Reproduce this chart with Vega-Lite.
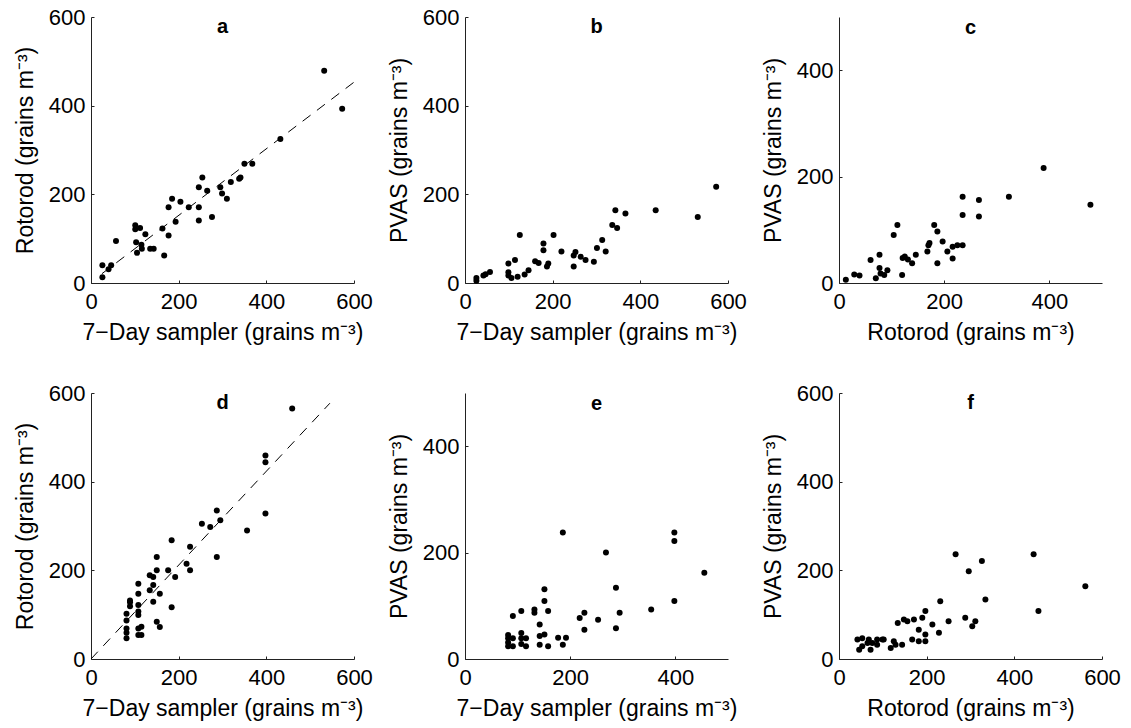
{
  "$schema": "https://vega.github.io/schema/vega-lite/v6.json",
  "background": "white",
  "padding": {"left": 14, "top": 6, "right": 5, "bottom": 5},
  "config": {
    "view": {"stroke": null},
    "font": "Liberation Sans",
    "axis": {
      "domainColor": "#222", "domainWidth": 1, "tickColor": "#222", "tickWidth": 1, "tickSize": -3,
      "labelFontSize": 22, "titleFontSize": 23, "labelColor": "black", "titleColor": "black",
      "titleFontWeight": "normal", "grid": false, "labelFlush": false, "labelOverlap": false,
      "labelFont": "Liberation Sans", "titleFont": "Liberation Sans"
    },
    "axisX": {"labelPadding": 11, "titlePadding": 9},
    "axisY": {"labelPadding": 9, "titlePadding": 11},
    "title": {"fontSize": 20, "fontWeight": "bold", "color": "black", "anchor": "middle", "frame": "group", "font": "Liberation Sans", "baseline": "alphabetic"}
  },
  "datasets": {
    "a": [{"x":26,"y":40},{"x":26,"y":13},{"x":40,"y":31},{"x":46,"y":40},{"x":57,"y":95},{"x":101,"y":130},{"x":101,"y":121},{"x":103,"y":92},{"x":105,"y":68},{"x":112,"y":124},{"x":115,"y":86},{"x":116,"y":77},{"x":124,"y":110},{"x":135,"y":77},{"x":143,"y":77},{"x":163,"y":123},{"x":167,"y":62},{"x":177,"y":107},{"x":177,"y":171},{"x":185,"y":190},{"x":193,"y":138},{"x":204,"y":183},{"x":223,"y":171},{"x":246,"y":216},{"x":246,"y":171},{"x":246,"y":141},{"x":254,"y":238},{"x":265,"y":208},{"x":276,"y":149},{"x":295,"y":216},{"x":299,"y":202},{"x":310,"y":190},{"x":319,"y":228},{"x":338,"y":235},{"x":341,"y":238},{"x":350,"y":269},{"x":368,"y":269},{"x":432,"y":325},{"x":532,"y":479},{"x":573,"y":393}],
    "aline": [{"x":25,"y":21},{"x":600,"y":453}],
    "b": [{"x":26,"y":11},{"x":26,"y":5},{"x":42,"y":17},{"x":47,"y":20},{"x":57,"y":25},{"x":99,"y":24},{"x":99,"y":44},{"x":99,"y":17},{"x":106,"y":11},{"x":114,"y":52},{"x":120,"y":14},{"x":125,"y":108},{"x":136,"y":19},{"x":145,"y":29},{"x":160,"y":49},{"x":168,"y":45},{"x":179,"y":89},{"x":179,"y":74},{"x":187,"y":37},{"x":190,"y":44},{"x":202,"y":108},{"x":220,"y":71},{"x":248,"y":37},{"x":248,"y":62},{"x":252,"y":70},{"x":264,"y":59},{"x":275,"y":52},{"x":294,"y":48},{"x":301,"y":79},{"x":313,"y":97},{"x":321,"y":71},{"x":336,"y":131},{"x":343,"y":164},{"x":347,"y":124},{"x":366,"y":157},{"x":435,"y":164},{"x":531,"y":149},{"x":573,"y":217}],
    "c": [{"x":13,"y":6},{"x":29,"y":16},{"x":39,"y":14},{"x":60,"y":43},{"x":70,"y":9},{"x":77,"y":53},{"x":77,"y":28},{"x":79,"y":18},{"x":86,"y":15},{"x":92,"y":24},{"x":104,"y":90},{"x":111,"y":109},{"x":120,"y":15},{"x":121,"y":47},{"x":125,"y":50},{"x":131,"y":44},{"x":139,"y":37},{"x":146,"y":53},{"x":168,"y":59},{"x":170,"y":71},{"x":172,"y":75},{"x":181,"y":109},{"x":187,"y":97},{"x":187,"y":37},{"x":197,"y":78},{"x":206,"y":59},{"x":216,"y":46},{"x":216,"y":68},{"x":225,"y":71},{"x":235,"y":71},{"x":235,"y":128},{"x":235,"y":162},{"x":266,"y":156},{"x":266,"y":125},{"x":323,"y":162},{"x":389,"y":216},{"x":478,"y":147}],
    "d": [{"x":81,"y":47},{"x":81,"y":59},{"x":81,"y":69},{"x":81,"y":87},{"x":81,"y":102},{"x":89,"y":119},{"x":89,"y":128},{"x":89,"y":132},{"x":108,"y":54},{"x":108,"y":69},{"x":108,"y":99},{"x":108,"y":107},{"x":108,"y":122},{"x":108,"y":147},{"x":108,"y":170},{"x":115,"y":54},{"x":115,"y":73},{"x":134,"y":155},{"x":134,"y":189},{"x":142,"y":185},{"x":142,"y":167},{"x":142,"y":129},{"x":150,"y":84},{"x":150,"y":230},{"x":150,"y":200},{"x":157,"y":72},{"x":157,"y":147},{"x":176,"y":200},{"x":184,"y":268},{"x":184,"y":117},{"x":192,"y":185},{"x":218,"y":215},{"x":226,"y":200},{"x":226,"y":253},{"x":253,"y":305},{"x":272,"y":298},{"x":287,"y":335},{"x":287,"y":230},{"x":295,"y":313},{"x":356,"y":290},{"x":398,"y":459},{"x":398,"y":444},{"x":398,"y":328},{"x":459,"y":565}],
    "dline": [{"x":0,"y":0},{"x":545,"y":577}],
    "e": [{"x":82,"y":45},{"x":82,"y":39},{"x":82,"y":31},{"x":82,"y":24},{"x":91,"y":81},{"x":91,"y":39},{"x":91,"y":24},{"x":107,"y":90},{"x":107,"y":49},{"x":107,"y":39},{"x":107,"y":28},{"x":116,"y":39},{"x":116,"y":24},{"x":132,"y":93},{"x":132,"y":87},{"x":142,"y":65},{"x":142,"y":43},{"x":142,"y":27},{"x":151,"y":131},{"x":151,"y":109},{"x":151,"y":46},{"x":158,"y":90},{"x":158,"y":24},{"x":177,"y":40},{"x":186,"y":238},{"x":186,"y":27},{"x":192,"y":40},{"x":218,"y":77},{"x":227,"y":87},{"x":227,"y":55},{"x":253,"y":74},{"x":268,"y":200},{"x":287,"y":134},{"x":287,"y":58},{"x":294,"y":87},{"x":354,"y":93},{"x":398,"y":238},{"x":398,"y":222},{"x":398,"y":109},{"x":455,"y":162}],
    "f": [{"x":42,"y":44},{"x":46,"y":21},{"x":53,"y":47},{"x":53,"y":29},{"x":65,"y":36},{"x":68,"y":44},{"x":72,"y":21},{"x":76,"y":36},{"x":87,"y":32},{"x":87,"y":44},{"x":99,"y":44},{"x":102,"y":44},{"x":118,"y":25},{"x":125,"y":40},{"x":129,"y":32},{"x":134,"y":81},{"x":144,"y":32},{"x":148,"y":89},{"x":156,"y":85},{"x":167,"y":44},{"x":171,"y":89},{"x":182,"y":66},{"x":182,"y":40},{"x":190,"y":93},{"x":197,"y":108},{"x":197,"y":55},{"x":197,"y":40},{"x":213,"y":78},{"x":228,"y":59},{"x":231,"y":130},{"x":250,"y":85},{"x":266,"y":236},{"x":288,"y":93},{"x":296,"y":198},{"x":304,"y":74},{"x":311,"y":85},{"x":326,"y":221},{"x":334,"y":134},{"x":444,"y":236},{"x":455,"y":108},{"x":562,"y":164}]
  },
  "columns": 3,
  "spacing": {"row": 38, "column": 15},
  "concat": [
    {
      "width": 263, "height": 266,
      "title": {"text": "a", "offset": -31},
      "layer": [
        {"data": {"name": "a"}, "mark": {"type": "circle", "size": 36, "color": "black", "opacity": 1},
         "encoding": {
           "x": {"field": "x", "type": "quantitative", "scale": {"domain": [0, 600], "nice": false}, "axis": {"values": [0, 200, 400, 600], "title": "7−Day sampler (grains m⁻³)"}},
           "y": {"field": "y", "type": "quantitative", "scale": {"domain": [0, 600], "nice": false}, "axis": {"values": [0, 200, 400, 600], "title": "Rotorod (grains m⁻³)"}}}},
        {"data": {"name": "aline"}, "mark": {"type": "line", "color": "black", "strokeWidth": 1, "strokeDash": [10, 8]},
         "encoding": {"x": {"field": "x", "type": "quantitative"}, "y": {"field": "y", "type": "quantitative"}}}
      ]
    },
    {
      "width": 263, "height": 266,
      "title": {"text": "b", "offset": -31},
      "layer": [
        {"data": {"name": "b"}, "mark": {"type": "circle", "size": 36, "color": "black", "opacity": 1},
         "encoding": {
           "x": {"field": "x", "type": "quantitative", "scale": {"domain": [0, 600], "nice": false}, "axis": {"values": [0, 200, 400, 600], "title": "7−Day sampler (grains m⁻³)"}},
           "y": {"field": "y", "type": "quantitative", "scale": {"domain": [0, 600], "nice": false}, "axis": {"values": [0, 200, 400, 600], "title": "PVAS (grains m⁻³)"}}}}
      ]
    },
    {
      "width": 263, "height": 266,
      "title": {"text": "c", "offset": -21},
      "layer": [
        {"data": {"name": "c"}, "mark": {"type": "circle", "size": 36, "color": "black", "opacity": 1},
         "encoding": {
           "x": {"field": "x", "type": "quantitative", "scale": {"domain": [0, 500], "nice": false}, "axis": {"values": [0, 200, 400], "title": "Rotorod (grains m⁻³)"}},
           "y": {"field": "y", "type": "quantitative", "scale": {"domain": [0, 500], "nice": false}, "axis": {"values": [0, 200, 400], "title": "PVAS (grains m⁻³)"}}}}
      ]
    },
    {
      "width": 263, "height": 266,
      "title": {"text": "d", "offset": -31},
      "layer": [
        {"data": {"name": "d"}, "mark": {"type": "circle", "size": 36, "color": "black", "opacity": 1},
         "encoding": {
           "x": {"field": "x", "type": "quantitative", "scale": {"domain": [0, 600], "nice": false}, "axis": {"values": [0, 200, 400, 600], "title": "7−Day sampler (grains m⁻³)"}},
           "y": {"field": "y", "type": "quantitative", "scale": {"domain": [0, 600], "nice": false}, "axis": {"values": [0, 200, 400, 600], "title": "Rotorod (grains m⁻³)"}}}},
        {"data": {"name": "dline"}, "mark": {"type": "line", "color": "black", "strokeWidth": 1, "strokeDash": [10, 8]},
         "encoding": {"x": {"field": "x", "type": "quantitative"}, "y": {"field": "y", "type": "quantitative"}}}
      ]
    },
    {
      "width": 263, "height": 266,
      "title": {"text": "e", "offset": -21},
      "layer": [
        {"data": {"name": "e"}, "mark": {"type": "circle", "size": 36, "color": "black", "opacity": 1},
         "encoding": {
           "x": {"field": "x", "type": "quantitative", "scale": {"domain": [0, 500], "nice": false}, "axis": {"values": [0, 200, 400], "title": "7−Day sampler (grains m⁻³)"}},
           "y": {"field": "y", "type": "quantitative", "scale": {"domain": [0, 500], "nice": false}, "axis": {"values": [0, 200, 400], "title": "PVAS (grains m⁻³)"}}}}
      ]
    },
    {
      "width": 263, "height": 266,
      "title": {"text": "f", "offset": -31},
      "layer": [
        {"data": {"name": "f"}, "mark": {"type": "circle", "size": 36, "color": "black", "opacity": 1},
         "encoding": {
           "x": {"field": "x", "type": "quantitative", "scale": {"domain": [0, 600], "nice": false}, "axis": {"values": [0, 200, 400, 600], "title": "Rotorod (grains m⁻³)"}},
           "y": {"field": "y", "type": "quantitative", "scale": {"domain": [0, 600], "nice": false}, "axis": {"values": [0, 200, 400, 600], "title": "PVAS (grains m⁻³)"}}}}
      ]
    }
  ]
}
